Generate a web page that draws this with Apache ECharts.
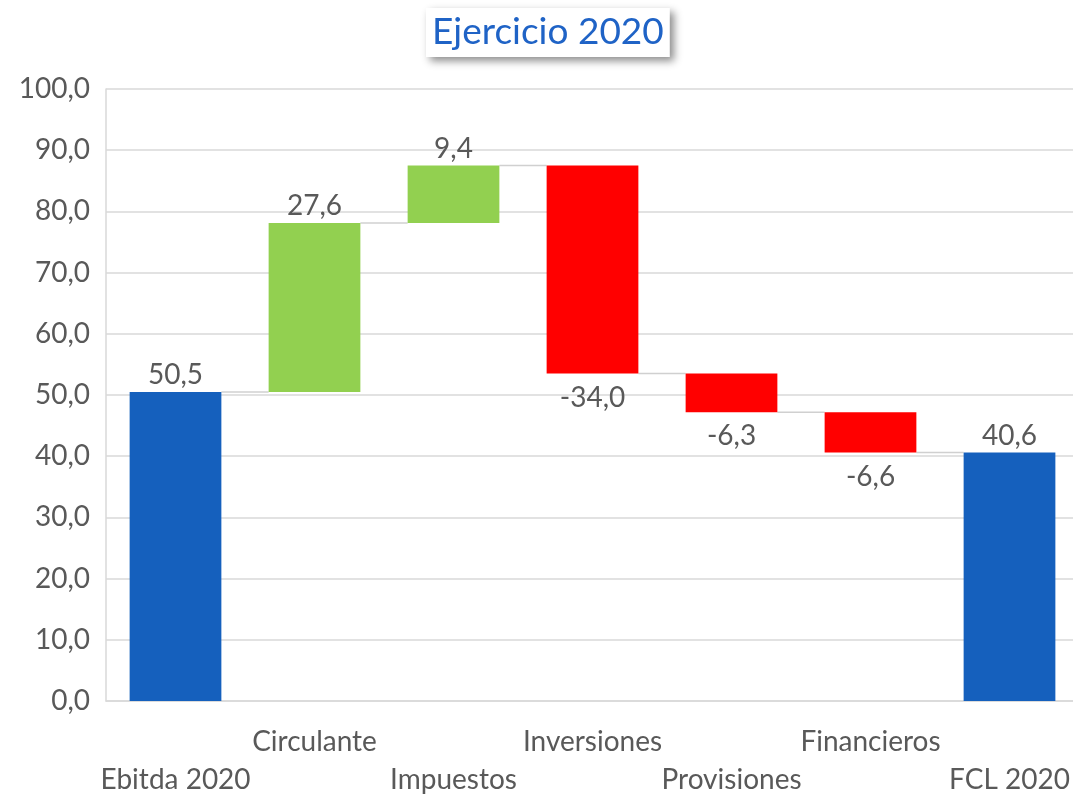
<!DOCTYPE html>
<html>
<head>
<meta charset="utf-8">
<script src="https://cdn.jsdelivr.net/npm/echarts@6/dist/echarts.min.js"></script>
<style>
  html, body { margin: 0; padding: 0; background: #fff; }
  #main { width: 1073px; height: 794px; }
</style>
</head>
<body>
<div id="main"></div>
<script>
const categories = ['Ebitda 2020', 'Circulante', 'Impuestos', 'Inversiones', 'Provisiones', 'Financieros', 'FCL 2020'];
const values = [50.5, 27.6, 9.4, -34.0, -6.3, -6.6, 40.6];
const isTotal = [true, false, false, false, false, false, true];
const yTicks = { min: 0, max: 100, interval: 10 };

const fmt = v => v.toFixed(1).replace('.', ',');

// base (transparent) + visible part of each bar
let running = 0;
const baseData = [], barData = [], levels = [];
values.forEach((v, i) => {
    let color, lo, hi;
    if (isTotal[i]) {
        lo = 0; hi = v; running = v; color = '#1560BD';
    } else {
        const next = running + v;
        lo = Math.min(running, next); hi = Math.max(running, next);
        running = next;
        color = v >= 0 ? '#92D050' : '#FF0000';
    }
    levels.push(running);
    baseData.push(lo);
    barData.push({
        value: hi - lo,
        itemStyle: { color: color },
        label: v >= 0
            ? { position: 'top', distance: 3, formatter: fmt(v) }
            : { position: 'bottom', distance: 10, formatter: fmt(v) }
    });
});
const connectorData = levels.slice(0, -1).map((l, i) => [i, l]);

const chart = echarts.init(document.getElementById('main'));
const BAR_RATIO = 0.66;
chart.setOption({
    animation: false,
    textStyle: { fontFamily: 'Lato' },
    title: {
        text: 'Ejercicio 2020',
        left: 426,
        top: 8,
        padding: [6, 6, 6, 6],
        backgroundColor: '#fff',
        shadowColor: 'rgba(0,0,0,0.45)',
        shadowBlur: 8,
        shadowOffsetX: 4,
        shadowOffsetY: 4,
        textStyle: { color: '#1F63C6', fontSize: 37, fontWeight: 'normal', fontFamily: 'Lato' }
    },
    grid: { left: 106, right: -6, top: 89, bottom: 93, containLabel: false, outerBoundsMode: 'none' },
    xAxis: {
        type: 'category',
        data: categories,
        axisLine: { lineStyle: { color: '#d9d9d9', width: 1.5 } },
        axisTick: { show: false },
        axisLabel: {
            interval: 0,
            margin: 22,
            color: '#595959',
            fontSize: 28,
            lineHeight: 38,
            formatter: (name, idx) => idx % 2 === 0 ? '\n' + name : name
        }
    },
    yAxis: {
        type: 'value',
        min: yTicks.min,
        max: yTicks.max,
        interval: yTicks.interval,
        axisLine: { show: true, lineStyle: { color: '#d9d9d9', width: 1.5 } },
        axisTick: { show: false },
        splitLine: { lineStyle: { color: '#d9d9d9', width: 1.5 } },
        axisLabel: { color: '#595959', fontSize: 28, margin: 16, formatter: v => fmt(v) }
    },
    series: [
        {
            type: 'bar',
            stack: 'w',
            data: baseData,
            itemStyle: { color: 'transparent' },
            barWidth: (BAR_RATIO * 100) + '%',
            silent: true
        },
        {
            type: 'bar',
            stack: 'w',
            data: barData,
            barWidth: (BAR_RATIO * 100) + '%',
            label: { show: true, color: '#595959', fontSize: 28 }
        },
        {
            type: 'custom',
            data: connectorData,
            z: 1,
            renderItem: (params, api) => {
                const i = api.value(0), l = api.value(1);
                const a = api.coord([i, l]);
                const b = api.coord([i + 1, l]);
                const half = api.size([1, 0])[0] * BAR_RATIO / 2;
                return {
                    type: 'line',
                    shape: { x1: a[0] + half, y1: a[1], x2: b[0] - half, y2: b[1] },
                    style: { stroke: '#d0d0d0', lineWidth: 1.5 }
                };
            }
        }
    ]
});
</script>
</body>
</html>
